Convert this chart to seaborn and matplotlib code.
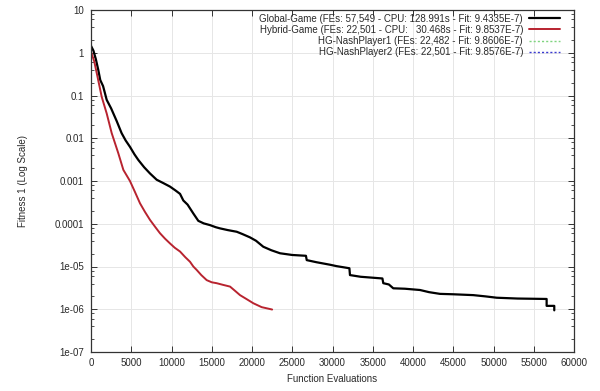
import matplotlib
matplotlib.use("Agg")
import matplotlib.pyplot as plt
from matplotlib.ticker import LogLocator, NullFormatter, FixedLocator
import seaborn as sns
import pandas as pd

# ---- data ----
global_fes = [0, 300, 600, 900, 1150, 1500, 1950, 2500, 3200, 3800, 4300, 4840, 5400, 5880,
              6600, 7330, 8160, 9000, 9810, 10500, 11060, 11470, 12000, 12710, 13330, 14000,
              14780, 15500, 16020, 17000, 18100, 18800, 19750, 20500, 21400, 22400, 23480,
              25000, 26700, 26800, 28000, 29690, 30500, 32100, 32170, 33500, 36200, 36310,
              37000, 37550, 39000, 40870, 42000, 43350, 45000, 47490, 49000, 50400, 53000,
              56600, 56600, 57549, 57549]
global_fit = [1.45, 1.12, 0.71, 0.40, 0.23, 0.166, 0.079, 0.050, 0.025, 0.0132, 0.0089, 0.0063,
              0.0042, 0.0031, 0.0021, 0.0015, 0.00107, 0.00089, 0.00074, 0.00060, 0.00050,
              0.00035, 0.00028, 0.000174, 0.000117, 0.000102, 9.3e-5, 8.3e-5, 7.8e-5, 7.1e-5,
              6.5e-5, 5.75e-5, 4.8e-5, 4.0e-5, 2.9e-5, 2.4e-5, 2.04e-5, 1.86e-5, 1.78e-5,
              1.41e-5, 1.26e-5, 1.10e-5, 1.02e-5, 9.1e-6, 6.3e-6, 5.75e-6, 5.25e-6, 4.07e-6,
              3.8e-6, 3.09e-6, 3.02e-6, 2.82e-6, 2.51e-6, 2.29e-6, 2.24e-6, 2.14e-6, 2.0e-6,
              1.86e-6, 1.78e-6, 1.74e-6, 1.20e-6, 1.20e-6, 9.4335e-7]

hybrid_fes = [0, 400, 800, 1330, 1950, 2570, 3390, 4020, 4840, 5450, 6090, 6700, 7330, 8000,
              8570, 9200, 9810, 10400, 11060, 11700, 12300, 12710, 13130, 13700, 14370, 15000,
              15610, 16400, 17270, 17900, 18510, 19300, 20170, 21200, 22501]
hybrid_fit = [1.05, 0.63, 0.28, 0.093, 0.038, 0.0132, 0.00447, 0.00182, 0.001, 0.00056, 0.0003,
              0.00019, 0.000123, 8.3e-5, 6.0e-5, 4.47e-5, 3.47e-5, 2.75e-5, 2.24e-5, 1.66e-5,
              1.29e-5, 1.0e-5, 8.3e-6, 6.3e-6, 4.8e-6, 4.27e-6, 4.07e-6, 3.72e-6, 3.39e-6,
              2.69e-6, 2.14e-6, 1.74e-6, 1.38e-6, 1.12e-6, 9.8537e-7]

# the two Nash-player series are not visible in the plot area of the reference (legend only)
nash1_fes, nash1_fit = [], []
nash2_fes, nash2_fit = [], []

labels = [
    "Global-Game (FEs: 57,549 - CPU: 128.991s - Fit: 9.4335E-7)",
    "Hybrid-Game (FEs: 22,501 - CPU:   30.468s - Fit: 9.8537E-7)",
    "HG-NashPlayer1 (FEs: 22,482 - Fit: 9.8606E-7)",
    "HG-NashPlayer2 (FEs: 22,501 - Fit: 9.8576E-7)",
]
x_ticks = list(range(0, 60001, 5000))
y_ticks = [1e1, 1e0, 1e-1, 1e-2, 1e-3, 1e-4, 1e-5, 1e-6, 1e-7]
y_ticklabels = ["10", "1", "0.1", "0.01", "0.001", "0.0001", "1e-05", "1e-06", "1e-07"]

# ---- styling ----
sns.set_style("ticks")
plt.rcParams["font.family"] = ["Liberation Sans", "DejaVu Sans"]
plt.rcParams["font.size"] = 7
text_col = "#2a2a2a"

fig = plt.figure(figsize=(6.0, 3.91), dpi=100)
ax = fig.add_axes([91 / 600, 1 - 352 / 391, (574 - 91) / 600, (352 - 10) / 391])

df_g = pd.DataFrame({"fes": global_fes, "fit": global_fit})
df_h = pd.DataFrame({"fes": hybrid_fes, "fit": hybrid_fit})

sns.lineplot(data=df_g, x="fes", y="fit", ax=ax, color="black", lw=1.6,
             estimator=None, sort=False, label=labels[0])
sns.lineplot(data=df_h, x="fes", y="fit", ax=ax, color="#b8232f", lw=1.4,
             estimator=None, sort=False, label=labels[1])
ax.plot(nash1_fes, nash1_fit, color="#7fd47f", lw=1.0, ls=(0, (1.5, 1.5)), label=labels[2])
ax.plot(nash2_fes, nash2_fit, color="#3a3ad0", lw=1.0, ls=(0, (1.5, 1.5)), label=labels[3])

ax.set_yscale("log")
ax.set_xlim(0, 60000)
ax.set_ylim(1e-7, 10)
ax.set_xticks(x_ticks)
ax.set_xticklabels([str(v) for v in x_ticks])
ax.set_yticks(y_ticks)
ax.set_yticklabels(y_ticklabels)
ax.yaxis.set_minor_locator(LogLocator(base=10, subs=(2, 4, 6, 8), numticks=20))
ax.yaxis.set_minor_formatter(NullFormatter())

ax.grid(True, which="major", color="#e6e6e6", lw=0.7)
ax.set_axisbelow(True)
for s in ax.spines.values():
    s.set_color("#333333")
    s.set_linewidth(0.9)
ax.tick_params(axis="both", which="major", direction="in", length=4.5, width=0.7,
               top=True, right=True, colors="#333333", labelcolor=text_col, labelsize=7)
ax.tick_params(axis="y", which="major", pad=5)
ax.tick_params(axis="x", which="major", pad=4)
ax.tick_params(axis="y", which="minor", direction="in", length=2.5, width=0.6,
               right=True, colors="#333333")

ax.set_xlabel("Function Evaluations", color=text_col, fontsize=7, labelpad=5)
ax.set_ylabel("Fitness 1 (Log Scale)", color=text_col, fontsize=7, labelpad=19)

leg = ax.legend(loc="upper right", bbox_to_anchor=(0.975, 0.995), frameon=False,
                markerfirst=False, fontsize=7, handlelength=3.2, handletextpad=0.6,
                labelspacing=0.12, borderpad=0.2, borderaxespad=0.0)
for t in leg.get_texts():
    t.set_color(text_col)
for col in leg._legend_box.get_children()[1].get_children():
    col.align = "right"

fig.savefig("out.png", dpi=100)
